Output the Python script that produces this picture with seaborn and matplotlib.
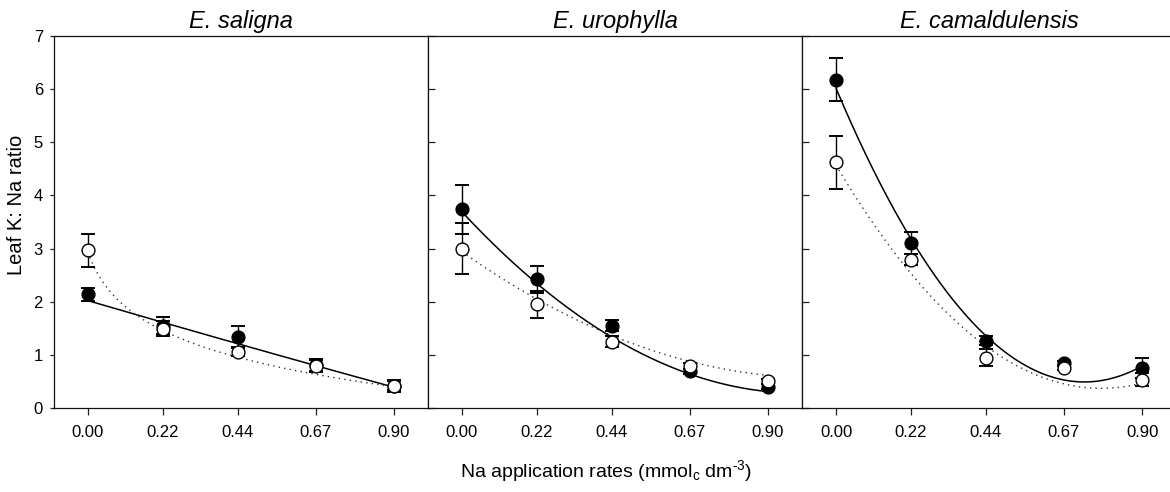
import numpy as np
import pandas as pd
import matplotlib
matplotlib.use("Agg")
import matplotlib.pyplot as plt
import seaborn as sns

# ---- data -------------------------------------------------------------
species = ["E. saligna", "E. urophylla", "E. camaldulensis"]
na_rates = [0.00, 0.22, 0.44, 0.67, 0.90]
tick_labels = ["0.00", "0.22", "0.44", "0.67", "0.90"]
y_ticks = [0, 1, 2, 3, 4, 5, 6, 7]

# leaf K:Na ratio, means and standard errors (filled / open symbols)
saligna_filled = [2.14, 1.55, 1.33, 0.81, 0.41]
saligna_filled_se = [0.12, 0.16, 0.21, 0.12, 0.11]
saligna_open = [2.97, 1.49, 1.06, 0.79, 0.42]
saligna_open_se = [0.31, 0.14, 0.08, 0.11, 0.08]

urophylla_filled = [3.74, 2.42, 1.55, 0.69, 0.40]
urophylla_filled_se = [0.46, 0.26, 0.11, 0.05, 0.05]
urophylla_open = [3.00, 1.95, 1.25, 0.79, 0.50]
urophylla_open_se = [0.48, 0.26, 0.10, 0.05, 0.05]

camal_filled = [6.18, 3.11, 1.27, 0.84, 0.75]
camal_filled_se = [0.41, 0.21, 0.09, 0.04, 0.19]
camal_open = [4.62, 2.79, 0.95, 0.75, 0.53]
camal_open_se = [0.50, 0.10, 0.16, 0.04, 0.12]

# fitted regressions: quadratic c0 + c1*x + c2*x^2, or logarithmic a - b*ln(x + e)
saligna_filled_fit = [2.02, -1.867, 0.062]
saligna_open_fit = [0.353, 0.833, 0.045]
urophylla_filled_fit = [3.69, -6.88, 3.47]
urophylla_open_fit = [2.94, -4.52, 2.15]
camal_filled_fit = [6.016, -15.14, 10.37]
camal_open_fit = [4.568, -10.764, 6.9]

rows = []
for sp, fm, fs, om, os_ in [
    (species[0], saligna_filled, saligna_filled_se, saligna_open, saligna_open_se),
    (species[1], urophylla_filled, urophylla_filled_se, urophylla_open, urophylla_open_se),
    (species[2], camal_filled, camal_filled_se, camal_open, camal_open_se),
]:
    for x, m, s in zip(na_rates, fm, fs):
        rows.append(dict(species=sp, group="filled", rate=x, ratio=m, se=s))
    for x, m, s in zip(na_rates, om, os_):
        rows.append(dict(species=sp, group="open", rate=x, ratio=m, se=s))
df = pd.DataFrame(rows)


def quad(c, x):
    return c[0] + c[1] * x + c[2] * x ** 2


def logfit(c, x):
    return c[0] - c[1] * np.log(x + c[2])


fits = {
    (species[0], "filled"): lambda x: quad(saligna_filled_fit, x),
    (species[0], "open"): lambda x: logfit(saligna_open_fit, x),
    (species[1], "filled"): lambda x: quad(urophylla_filled_fit, x),
    (species[1], "open"): lambda x: quad(urophylla_open_fit, x),
    (species[2], "filled"): lambda x: quad(camal_filled_fit, x),
    (species[2], "open"): lambda x: quad(camal_open_fit, x),
}

# ---- style ------------------------------------------------------------
sns.set_theme(style="ticks")
plt.rcParams["font.family"] = ["Liberation Sans", "DejaVu Sans"]
plt.rcParams["mathtext.fontset"] = "custom"
plt.rcParams["mathtext.rm"] = "Liberation Sans"
plt.rcParams["mathtext.it"] = "Liberation Sans:italic"
plt.rcParams["axes.linewidth"] = 0.9
plt.rcParams["axes.edgecolor"] = "#111111"
for key in ["text.color", "axes.labelcolor", "xtick.color", "ytick.color"]:
    plt.rcParams[key] = "black"

W, H = 1170, 492
fig = plt.figure(figsize=(W / 100, H / 100), dpi=100)
fig.patch.set_facecolor("white")

bottom_px, top_px = 408, 36
panels_px = [(54, 374), (428, 374), (802, 368)]
xlims = [(-0.1, 1.0), (-0.1, 1.0), (-0.1, 0.982)]

axes = []
for i, ((left, width), sp) in enumerate(zip(panels_px, species)):
    ax = fig.add_axes([left / W, (H - bottom_px) / H, width / W,
                       (bottom_px - top_px) / H])
    ax.set_facecolor("white")
    sub = df[df["species"] == sp]

    # regression curves
    xs = np.linspace(0.0, 0.9, 300)
    sns.lineplot(x=xs, y=fits[(sp, "filled")](xs), ax=ax, color="black",
                 lw=1.1, zorder=2)
    sns.lineplot(x=xs, y=fits[(sp, "open")](xs), ax=ax, color="#333333",
                 lw=1.0, linestyle=(0, (1, 3)), zorder=2)

    # error bars and symbols
    for grp, face in [("filled", "black"), ("open", "white")]:
        g = sub[sub["group"] == grp]
        ax.errorbar(g["rate"], g["ratio"], yerr=g["se"], fmt="none",
                    ecolor="black", elinewidth=1.0, capsize=5, capthick=1.4,
                    zorder=3)
        sns.scatterplot(x=g["rate"], y=g["ratio"], ax=ax, marker="o", s=85,
                        color=face, edgecolor="black", linewidth=1.0,
                        zorder=4 if grp == "filled" else 5, legend=False)

    ax.set_xlim(*xlims[i])
    ax.set_ylim(0, 7)
    ax.set_xticks(na_rates)
    ax.set_xticklabels(tick_labels, fontsize=12)
    ax.set_yticks(y_ticks)
    ax.set_xlabel("")
    ax.set_ylabel("")
    ax.tick_params(axis="x", direction="out", length=5, width=0.9, pad=7,
                   color="#222222")
    if i == 0:
        ax.set_yticklabels([str(v) for v in y_ticks], fontsize=12)
        ax.tick_params(axis="y", direction="out", length=3, width=0.9, pad=5,
                       color="#222222")
        ax.set_ylabel("Leaf K: Na ratio", fontsize=14.5)
        ax.yaxis.set_label_coords(-0.076, 0.545)
    else:
        ax.tick_params(axis="y", direction="in", length=5, width=0.9,
                       labelleft=False, color="#222222")
    for side in ["left", "top", "bottom", "right"]:
        ax.spines[side].set_visible(True)
    if i == 2:
        ax.spines["right"].set_visible(False)
    title_x = 0.5 if i < 2 else (989 - 802) / 368
    ax.set_title(sp, fontsize=17, style="italic", x=title_x, pad=6)
    axes.append(ax)

fig.text(606 / W, (H - 471) / H,
         r"Na application rates (mmol$_{\mathrm{c}}$ dm$^{\text{-3}}$)",
         ha="center", va="center", fontsize=14)

fig.savefig("out.png", dpi=100, facecolor="white")
